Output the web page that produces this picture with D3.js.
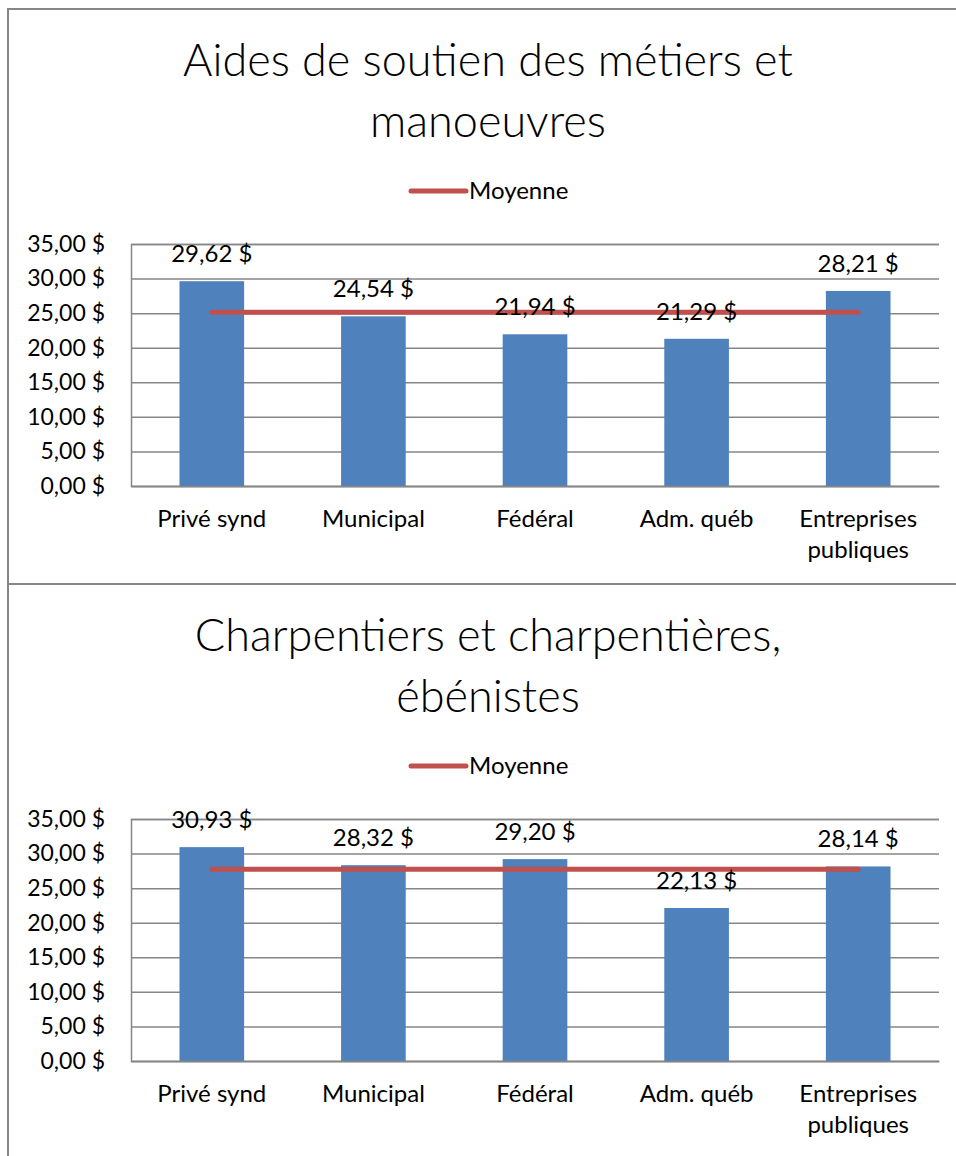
<!DOCTYPE html>
<html>
<head>
<meta charset="utf-8">
<script src="https://d3js.org/d3.v7.min.js"></script>
<style>
  body { margin: 0; background: #fff; }
  svg text { font-family: Lato, "Open Sans", sans-serif; fill: #000; }
</style>
</head>
<body>
<svg id="chart" width="956" height="1156"></svg>
<script>
// categories and values
var categories = ["Privé synd", "Municipal", "Fédéral", "Adm. québ", "Entreprises publiques"];

var aidesTitle = ["Aides de soutien des métiers et", "manoeuvres"];
var aidesValues = [29.62, 24.54, 21.94, 21.29, 28.21];
var aidesMoyenne = [25.12, 25.12, 25.12, 25.12, 25.12];

var charpTitle = ["Charpentiers et charpentières,", "ébénistes"];
var charpValues = [30.93, 28.32, 29.20, 22.13, 28.14];
var charpMoyenne = [27.74, 27.74, 27.74, 27.74, 27.74];

var yTicks = [0, 5, 10, 15, 20, 25, 30, 35];
var legendLabel = "Moyenne";

var Chart = {
	BOX_X: 8,
	BOX_W: 966,
	BOX_H: 575,
	PLOT_LEFT: 123,   // relative to box
	PLOT_RIGHT: 931,
	PLOT_TOP: 235,
	PLOT_BOTTOM: 477,
	BAR_COLOR: "#4F81BD",
	LINE_COLOR: "#C0504D",
	GRID_COLOR: "#868686",
	TICK_SIZE: 23,
	LABEL_SIZE: 24,
	TITLE_SIZE: 45,

	fr: d3.formatLocale({decimal: ",", thousands: " ", grouping: [3], currency: ["", " $"]}),

	draw: function(svg, top, title, values, moyenne) {
		var fmt = Chart.fr.format("$.2f");
		var g = svg.append("g").attr("transform", "translate(" + Chart.BOX_X + "," + top + ")");

		g.append("rect")
			.attr("width", Chart.BOX_W)
			.attr("height", Chart.BOX_H)
			.attr("fill", "#fff")
			.attr("stroke", Chart.GRID_COLOR)
			.attr("stroke-width", 2);

		// title, two lines
		g.append("text")
			.attr("text-anchor", "middle")
			.style("font-size", Chart.TITLE_SIZE + "px")
			.style("font-weight", 300)
			.selectAll("tspan")
			.data(title)
			.enter()
			.append("tspan")
			.attr("x", Chart.BOX_W / 2 - 3)
			.attr("y", function(d, i) { return 67 + i * 61; })
			.text(function(d) { return d; });

		// legend
		var lg = g.append("g").attr("transform", "translate(" + (Chart.BOX_W / 2) + ",182)");
		lg.append("line")
			.attr("x1", -80).attr("x2", -25)
			.attr("stroke", Chart.LINE_COLOR)
			.attr("stroke-width", 5)
			.attr("stroke-linecap", "round");
		lg.append("text")
			.attr("x", -22)
			.attr("dy", "0.35em")
			.style("font-size", Chart.LABEL_SIZE + "px")
			.text(legendLabel);

		var x = d3.scaleBand()
			.domain(categories)
			.range([Chart.PLOT_LEFT, Chart.PLOT_RIGHT])
			.paddingInner(0.6)
			.paddingOuter(0.3);

		var y = d3.scaleLinear()
			.domain([0, 35])
			.range([Chart.PLOT_BOTTOM, Chart.PLOT_TOP]);

		// value axis + gridlines
		var yAxis = g.append("g")
			.attr("transform", "translate(" + Chart.PLOT_LEFT + ",0)")
			.call(d3.axisLeft(y)
				.tickValues(yTicks)
				.tickSize(-(Chart.PLOT_RIGHT - Chart.PLOT_LEFT))
				.tickPadding(26)
				.tickFormat(fmt));
		yAxis.select(".domain").attr("stroke", Chart.GRID_COLOR).attr("stroke-width", 1.5);
		yAxis.selectAll(".tick line").attr("stroke", Chart.GRID_COLOR).attr("stroke-width", 1.5);
		yAxis.selectAll(".tick text")
			.style("font-size", Chart.TICK_SIZE + "px")
			.attr("fill", "#000");

		// bars
		g.selectAll("rect.bar")
			.data(values)
			.enter()
			.append("rect")
			.attr("class", "bar")
			.attr("x", function(d, i) { return x(categories[i]); })
			.attr("width", x.bandwidth())
			.attr("y", function(d) { return y(d); })
			.attr("height", function(d) { return y(0) - y(d); })
			.attr("fill", Chart.BAR_COLOR);

		// category axis line (drawn over bars)
		var xAxis = g.append("g")
			.attr("transform", "translate(0," + Chart.PLOT_BOTTOM + ")")
			.call(d3.axisBottom(x).tickSize(0).tickPadding(0));
		xAxis.select(".domain").attr("stroke", Chart.GRID_COLOR).attr("stroke-width", 1.5);
		xAxis.selectAll(".tick text")
			.style("font-size", Chart.LABEL_SIZE + "px")
			.attr("fill", "#000")
			.attr("dy", null)
			.attr("y", 41)
			.call(Chart.wrap, x.step());

		// moyenne line, from first to last category centre
		var line = d3.line()
			.x(function(d, i) { return x(categories[i]) + x.bandwidth() / 2; })
			.y(function(d) { return y(d); });
		g.append("path")
			.datum(moyenne)
			.attr("d", line)
			.attr("fill", "none")
			.attr("stroke", Chart.LINE_COLOR)
			.attr("stroke-width", 5)
			.attr("stroke-linecap", "round");

		// data labels above bars
		g.selectAll("text.value")
			.data(values)
			.enter()
			.append("text")
			.attr("class", "value")
			.attr("text-anchor", "middle")
			.attr("x", function(d, i) { return x(categories[i]) + x.bandwidth() / 2; })
			.attr("y", function(d) { return y(d) - 19; })
			.style("font-size", Chart.LABEL_SIZE + "px")
			.text(function(d) { return fmt(d); });
	},

	// splits a category label on spaces when it is wider than the band
	wrap: function(texts, width) {
		texts.each(function() {
			var text = d3.select(this);
			var words = text.text().split(" ");
			var yy = text.attr("y");
			if (this.getComputedTextLength() < width - 10) { return; }
			text.text(null);
			var lineNo = 0, line = [];
			var tspan = text.append("tspan").attr("x", 0).attr("y", yy);
			words.forEach(function(w) {
				line.push(w);
				tspan.text(line.join(" "));
				if (tspan.node().getComputedTextLength() > width - 10 && line.length > 1) {
					line.pop();
					tspan.text(line.join(" "));
					line = [w];
					lineNo++;
					tspan = text.append("tspan").attr("x", 0).attr("y", +yy + lineNo * 31).text(w);
				}
			});
		});
	}
};

var svg = d3.select("#chart");
Chart.draw(svg, 9, aidesTitle, aidesValues, aidesMoyenne);
Chart.draw(svg, 584, charpTitle, charpValues, charpMoyenne);
</script>
</body>
</html>
